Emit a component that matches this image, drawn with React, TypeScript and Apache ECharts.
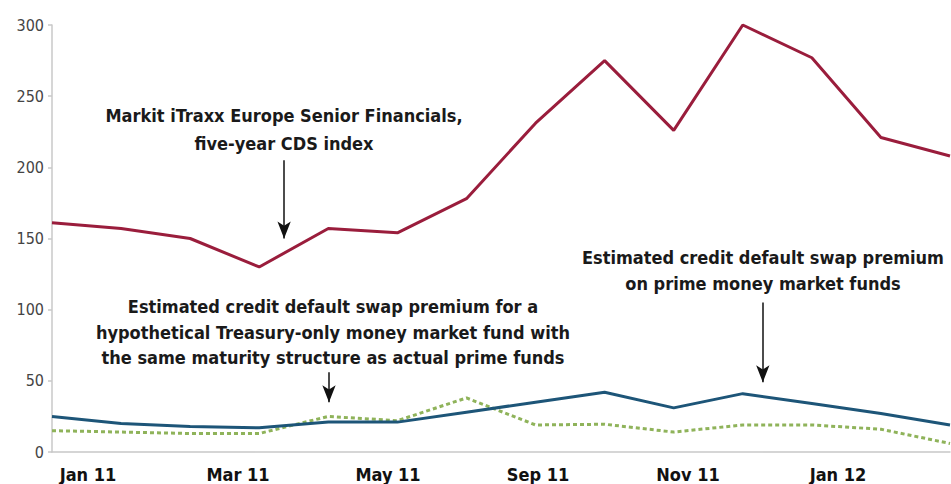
import React, { useEffect, useRef } from "react";
import * as echarts from "echarts";

const months = ["Jan 11", "Feb 11", "Mar 11", "Apr 11", "May 11", "Jun 11", "Jul 11", "Aug 11", "Sep 11", "Oct 11", "Nov 11", "Dec 11", "Jan 12", "Feb 12"];
const xLabels = ["Jan 11", "Mar 11", "May 11", "Sep 11", "Nov 11", "Jan 12"];
const itraxx = [161, 157, 150, 130, 157, 154, 178, 231, 275, 226, 300, 277, 221, 208];
const primeFunds = [25, 20, 18, 17, 21, 21, 28, 35, 42, 31, 41, 34, 27, 19];
const treasuryOnly = [15, 14, 13, 13, 25, 22, 38, 19, 19.5, 14, 19, 19, 16, 6];
const yTicks = [0, 50, 100, 150, 200, 250, 300];

const FONT = "'DejaVu Sans Condensed', 'DejaVu Sans', sans-serif";

const toPairs = (arr: number[]) => arr.map((v, i) => [i, v]);

const arrow = (x: number, y1: number, y2: number) => ({
  silent: true,
  symbol: ["none", "arrow"],
  symbolSize: [10, 17],
  label: { show: false },
  emphasis: { disabled: true },
  lineStyle: { color: "#111", width: 1.5, type: "solid" },
  data: [[{ coord: [x, y1] }, { coord: [x, y2] }]],
});

export default function App() {
  const ref = useRef<HTMLDivElement>(null);
  useEffect(() => {
    if (!ref.current) return;
    const chart = echarts.init(ref.current, null, { renderer: "svg" });
    const textStyle = {
      fill: "#1a1a1a",
      font: `bold 18px ${FONT}`,
      align: "center",
      verticalAlign: "top",
    };
    chart.setOption({
      animation: false,
      backgroundColor: "#ffffff",
      grid: [
        { left: 52, right: 1, top: 25, bottom: 32 },
        { left: 13, width: 900, top: 25, bottom: 32 },
      ],
      xAxis: [
        {
          type: "value",
          gridIndex: 0,
          min: 0,
          max: months.length - 1,
          splitLine: { show: false },
          axisTick: { show: false },
          axisLabel: { show: false },
          axisLine: { show: true, lineStyle: { color: "#c8c8c8", width: 1.5 } },
        },
        {
          type: "category",
          gridIndex: 1,
          data: xLabels,
          boundaryGap: true,
          axisLine: { show: false },
          axisTick: { show: false },
          axisLabel: { fontFamily: FONT, fontWeight: "bold", fontSize: 18, color: "#111", margin: 13 },
        },
      ],
      yAxis: [
        {
          type: "value",
          gridIndex: 0,
          min: 0,
          max: 300,
          interval: 50,
          splitLine: { show: false },
          axisLine: { show: true, lineStyle: { color: "#c8c8c8", width: 1.5 } },
          axisTick: { show: true, length: 4, lineStyle: { color: "#c8c8c8", width: 1.5 } },
          axisLabel: {
            fontFamily: FONT,
            fontSize: 16,
            color: "#444",
            margin: 8,
            formatter: (v: number) => (yTicks.includes(v) ? String(v) : ""),
          },
        },
        { type: "value", gridIndex: 1, show: false, min: 0, max: 1 },
      ],
      series: [
        {
          name: "Markit iTraxx Europe Senior Financials, five-year CDS index",
          type: "line",
          xAxisIndex: 0,
          yAxisIndex: 0,
          data: toPairs(itraxx),
          symbol: "none",
          clip: false,
          lineStyle: { color: "#9a1d3c", width: 3 },
          markLine: arrow(3.36, 205, 150),
        },
        {
          name: "Estimated credit default swap premium for a hypothetical Treasury-only money market fund",
          type: "line",
          xAxisIndex: 0,
          yAxisIndex: 0,
          data: toPairs(treasuryOnly),
          symbol: "none",
          lineStyle: { color: "#8fb35a", width: 3, type: [4, 3] },
          markLine: arrow(4.01, 56, 35),
        },
        {
          name: "Estimated credit default swap premium on prime money market funds",
          type: "line",
          xAxisIndex: 0,
          yAxisIndex: 0,
          data: toPairs(primeFunds),
          symbol: "none",
          lineStyle: { color: "#1d5578", width: 3 },
          markLine: arrow(10.29, 105, 49),
        },
      ],
      graphic: [
        {
          type: "text",
          x: 284,
          y: 101,
          style: { ...textStyle, text: "Markit iTraxx Europe Senior Financials,\nfive-year CDS index", lineHeight: 28 },
        },
        {
          type: "text",
          x: 333,
          y: 294,
          style: {
            ...textStyle,
            text: "Estimated credit default swap premium for a\nhypothetical Treasury-only money market fund with\nthe same maturity structure as actual prime funds",
            lineHeight: 25.5,
          },
        },
        {
          type: "text",
          x: 763,
          y: 244,
          style: { ...textStyle, text: "Estimated credit default swap premium\non prime money market funds", lineHeight: 26 },
        },
      ],
    });
    return () => chart.dispose();
  }, []);
  return <div ref={ref} style={{ position: "absolute", left: 0, top: 0, width: 951, height: 484 }} />;
}
